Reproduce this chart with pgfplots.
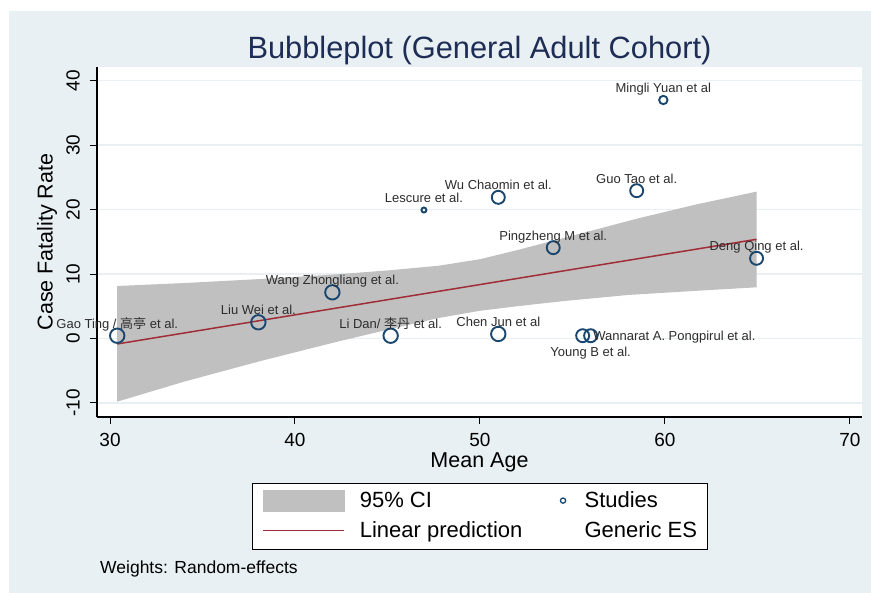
\documentclass[border=0pt]{standalone}
\usepackage{fontspec}
\setmainfont{Liberation Sans}
\newfontfamily\cjk{Noto Sans CJK SC}
\usepackage{pgfplots}
\pgfplotsset{compat=1.18}
\definecolor{bgpanel}{RGB}{232,240,243}
\definecolor{gridc}{RGB}{232,240,243}
\definecolor{stnavy}{RGB}{26,71,111}
\definecolor{lfit}{RGB}{160,45,55}
\definecolor{cigray}{RGB}{192,192,192}
\definecolor{ttl}{RGB}{30,45,85}
\definecolor{labc}{RGB}{45,45,45}

\begin{document}
\begin{tikzpicture}[x=1pt,y=1pt]
\useasboundingbox (0,0) rectangle (871,593);
\fill[white] (0,0) rectangle (871,593);
\fill[bgpanel] (9,0) rectangle (871,582);
\begin{axis}[
  at={(97pt,176pt)}, anchor=south west,
  scale only axis, width=765pt, height=350pt,
  xmin=29.297, xmax=70.65, ymin=-12.18, ymax=42.12,
  clip=false,
  axis x line*=bottom, axis y line*=left,
  axis line style={black, line width=1.1pt, -},
  axis background/.style={fill=white},
  xtick={30,40,50,60,70}, xticklabels={30,40,50,60,70},
  ytick={-10,0,10,20,30,40}, yticklabels={-10,0,10,20,30,40},
  tick align=outside, major tick length=7pt,
  tick style={black, line width=1pt},
  ymajorgrids, grid style={gridc, line width=1.5pt},
  xticklabel style={font=\fontsize{19}{19}\selectfont, inner sep=0pt, anchor=north},
  xticklabel shift=9pt,
  yticklabel style={font=\fontsize{19}{19}\selectfont, inner sep=0pt, rotate=90, anchor=south},
  yticklabel shift=10pt,
  title={Bubbleplot (General Adult Cohort)},
  title style={at={(axis description cs:0.5,1.031)}, anchor=center, font=\fontsize{30.8}{31}\selectfont, text=ttl, inner sep=0pt},
  xlabel={Mean Age},
  xlabel style={at={(axis description cs:0.5,-0.1286)}, anchor=center, font=\fontsize{21.5}{22}\selectfont, inner sep=0pt},
  ylabel={Case Fatality Rate},
  ylabel style={at={(axis description cs:-0.0654,0.5)}, anchor=center, rotate=0, font=\fontsize{21.5}{22}\selectfont, inner sep=0pt},
  legend columns=2,
  legend cell align=left,
  legend style={at={(axis description cs:0.2026,-0.1886)}, anchor=north west,
    draw=black, line width=1.1pt, fill=white, inner xsep=10pt, inner ysep=6pt,
    font=\fontsize{22}{22}\selectfont, row sep=6pt,
    nodes={inner sep=0pt, text height=18pt, text depth=6pt, anchor=west},
    /tikz/every even column/.append style={column sep=21pt}},
]
% legend entries (row-wise: 95% CI, Studies, Linear prediction, Generic ES)
\addlegendimage{legend image code/.code={\fill[cigray] (0pt,-9.5pt) rectangle (81pt,11.5pt); \path (96pt,0pt);}}
\addlegendentry{95\% CI}
\addlegendimage{legend image code/.code={\draw[stnavy, line width=1.3pt] (19pt,1pt) circle (2.6pt); \path (0pt,0pt) (40pt,0pt);}}
\addlegendentry{Studies}
\addlegendimage{legend image code/.code={\draw[lfit, line width=1.5pt] (0pt,1pt) -- (81pt,1pt); \path (96pt,0pt);}}
\addlegendentry{Linear prediction}
\addlegendimage{legend image code/.code={\path (0pt,0pt) (40pt,0pt);}}
\addlegendentry{Generic ES}

% 95% CI band
\addplot[fill=cigray, draw=none, forget plot] coordinates {
 (30.39,8.14) (34,8.6) (38,9.2) (42,9.9) (45.2,10.6) (47.8,11.3) (50,12.3)
 (52,13.7) (54,15.2) (56,16.7) (58.5,18.6) (61.7,20.8) (64.95,22.78)
 (64.95,7.94) (61.7,7.4) (58,6.75) (54.5,5.8) (52,5.0) (50,4.3) (47.8,3.2)
 (45.2,1.5) (42,-0.7) (38,-3.6) (34,-6.7) (30.39,-9.8)};

% linear prediction
\addplot[lfit, line width=1.5pt, forget plot] coordinates {(30.39,-0.85) (64.95,15.39)};

% studies (bubbles)
\addplot[scatter, only marks, mark=o, forget plot,
  scatter/use mapped color={draw=stnavy, fill=none},
  mark options={line width=1.9pt},
  visualization depends on={\thisrow{r}\as\rad},
  scatter/@pre marker code/.append style={/tikz/mark size=\rad}]
  table[x=x, y=y] {
x y r
30.39 0.43 7.2
38.02 2.51 7.2
42.02 7.16 7.2
45.17 0.43 7.2
46.97 19.93 2.5
50.99 21.90 6.5
50.99 0.70 7.2
53.96 14.09 6.5
55.55 0.43 6.5
55.98 0.43 6.5
58.47 22.93 6.5
59.91 37.00 4.2
64.95 12.44 6.5
};

% labels above markers
\addplot[draw=none, mark=none, forget plot,
  nodes near coords, point meta=explicit symbolic,
  every node near coord/.append style={anchor=base, yshift=7.5pt, inner sep=0pt,
    font=\fontsize{13}{13}\selectfont, text=labc}]
  coordinates {
  (30.39,0.43) [Gao Ting / {\cjk 高亭} et al.]
  (38.02,2.51) [Liu Wei et al.]
  (42.02,7.16) [Wang Zhongliang et al.]
  (45.17,0.43) [Li Dan/ {\cjk 李丹} et al.]
  (46.97,19.93) [Lescure et al.]
  (50.99,21.90) [Wu Chaomin et al.]
  (50.99,0.70) [Chen Jun et al]
  (53.96,14.09) [Pingzheng M et al.]
  (58.47,22.93) [Guo Tao et al.]
  (59.91,37.00) [Mingli Yuan et al]
  (64.95,12.44) [Deng Qing et al.]
  };
% label to the right
\addplot[draw=none, mark=none, forget plot,
  nodes near coords, point meta=explicit symbolic,
  every node near coord/.append style={anchor=base west, xshift=10.5pt, yshift=-5pt, inner sep=0pt,
    font=\fontsize{13}{13}\selectfont, text=labc}]
  coordinates {(55.55,0.43) [Wannarat A. Pongpirul et al.]};
% label below
\addplot[draw=none, mark=none, forget plot,
  nodes near coords, point meta=explicit symbolic,
  every node near coord/.append style={anchor=base, yshift=-21pt, inner sep=0pt,
    font=\fontsize{13}{13}\selectfont, text=labc}]
  coordinates {(55.98,0.43) [Young B et al.]};
\end{axis}
\node[anchor=base west, inner sep=0pt, font=\fontsize{17.5}{18}\selectfont] at (100pt,19pt) {Weights: Random-effects};
\end{tikzpicture}
\end{document}
